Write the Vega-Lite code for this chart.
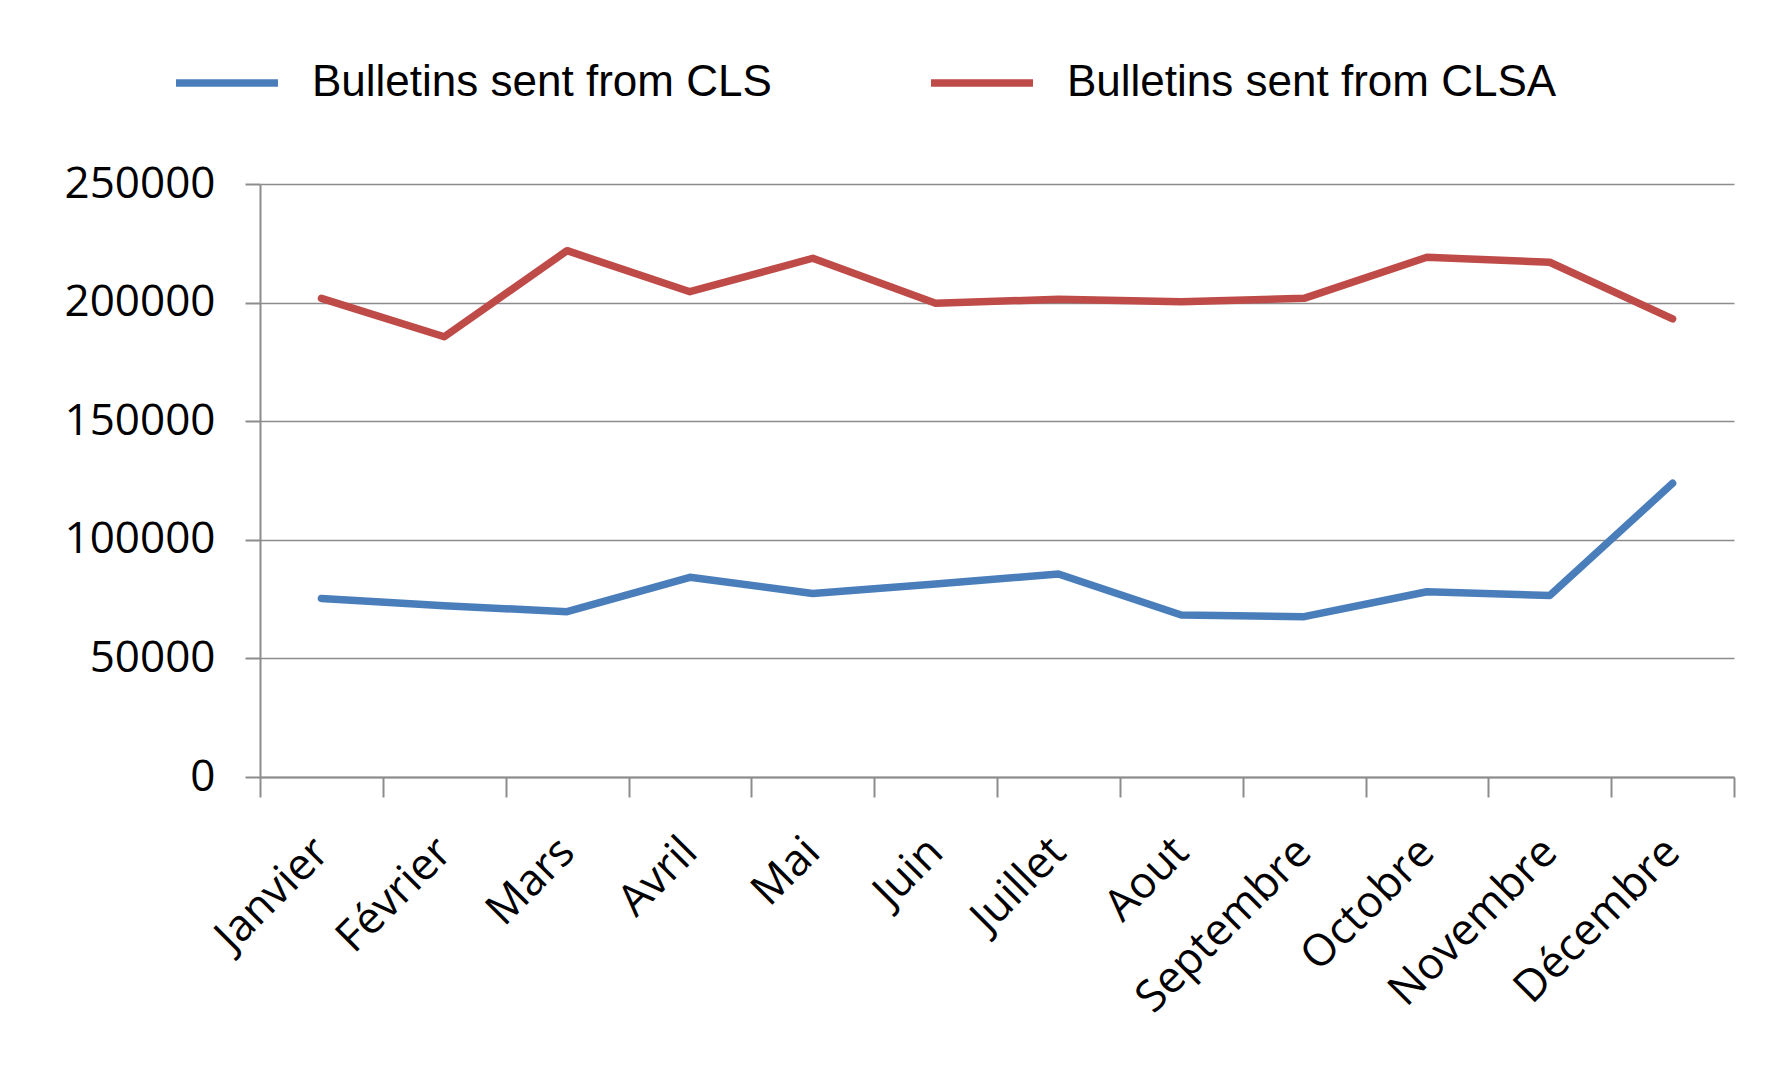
{
  "$schema": "https://vega.github.io/schema/vega-lite/v6.json",
  "width": 1474,
  "height": 593,
  "autosize": {"type": "none"},
  "padding": {"left": 260, "top": 184, "right": 43, "bottom": 293},
  "background": "white",
  "data": {
    "values": [
      {"month": "Janvier", "series": "Bulletins sent from CLS", "value": 75300},
      {"month": "Février", "series": "Bulletins sent from CLS", "value": 72200},
      {"month": "Mars", "series": "Bulletins sent from CLS", "value": 69700},
      {"month": "Avril", "series": "Bulletins sent from CLS", "value": 84200},
      {"month": "Mai", "series": "Bulletins sent from CLS", "value": 77400},
      {"month": "Juin", "series": "Bulletins sent from CLS", "value": 81400},
      {"month": "Juillet", "series": "Bulletins sent from CLS", "value": 85600},
      {"month": "Aout", "series": "Bulletins sent from CLS", "value": 68300},
      {"month": "Septembre", "series": "Bulletins sent from CLS", "value": 67600},
      {"month": "Octobre", "series": "Bulletins sent from CLS", "value": 78100},
      {"month": "Novembre", "series": "Bulletins sent from CLS", "value": 76500},
      {"month": "Décembre", "series": "Bulletins sent from CLS", "value": 123800},
      {"month": "Janvier", "series": "Bulletins sent from CLSA", "value": 201800},
      {"month": "Février", "series": "Bulletins sent from CLSA", "value": 185600},
      {"month": "Mars", "series": "Bulletins sent from CLSA", "value": 221900},
      {"month": "Avril", "series": "Bulletins sent from CLSA", "value": 204600},
      {"month": "Mai", "series": "Bulletins sent from CLSA", "value": 218700},
      {"month": "Juin", "series": "Bulletins sent from CLSA", "value": 199700},
      {"month": "Juillet", "series": "Bulletins sent from CLSA", "value": 201400},
      {"month": "Aout", "series": "Bulletins sent from CLSA", "value": 200400},
      {"month": "Septembre", "series": "Bulletins sent from CLSA", "value": 201800},
      {"month": "Octobre", "series": "Bulletins sent from CLSA", "value": 219100},
      {"month": "Novembre", "series": "Bulletins sent from CLSA", "value": 217000},
      {"month": "Décembre", "series": "Bulletins sent from CLSA", "value": 193100}
    ]
  },
  "mark": {"type": "line", "strokeWidth": 7.5, "strokeCap": "round", "strokeJoin": "round"},
  "encoding": {
    "x": {
      "field": "month",
      "type": "ordinal",
      "sort": null,
      "scale": {"type": "band", "paddingInner": 0, "paddingOuter": 0},
      "axis": {
        "title": null,
        "tickBand": "extent",
        "grid": false,
        "domainColor": "#8c8c8c",
        "domainWidth": 2,
        "tickColor": "#8c8c8c",
        "tickWidth": 2,
        "tickSize": 20,
        "labelAngle": -45,
        "labelAlign": "right",
        "labelBaseline": "middle",
        "labelFont": "Open Sans",
        "labelFontSize": 44,
        "labelColor": "#000000",
        "labelPadding": 48,
        "labelLimit": 1000
      }
    },
    "y": {
      "field": "value",
      "type": "quantitative",
      "scale": {"domain": [0, 250000], "nice": false},
      "axis": {
        "title": null,
        "values": [0, 50000, 100000, 150000, 200000, 250000],
        "format": "d",
        "grid": true,
        "gridColor": "#8c8c8c",
        "gridWidth": 1.5,
        "domainColor": "#8c8c8c",
        "domainWidth": 2,
        "tickColor": "#8c8c8c",
        "tickWidth": 2,
        "tickSize": 15,
        "labelFont": "Open Sans",
        "labelFontSize": 44,
        "labelColor": "#000000",
        "labelPadding": 30,
        "labelLimit": 1000
      }
    },
    "color": {
      "field": "series",
      "type": "nominal",
      "scale": {
        "domain": ["Bulletins sent from CLS", "Bulletins sent from CLSA"],
        "range": ["#4A7EBB", "#BE4B48"]
      },
      "legend": {
        "title": null,
        "orient": "none",
        "legendX": -88,
        "legendY": -156,
        "direction": "horizontal",
        "symbolType": "stroke",
        "symbolSize": 10404,
        "symbolStrokeWidth": 7.5,
        "labelFont": "Liberation Sans",
        "labelFontSize": 44,
        "labelColor": "#000000",
        "labelOffset": 30,
        "labelLimit": 1000,
        "columnPadding": 144
      }
    }
  },
  "config": {"view": {"stroke": null}}
}
